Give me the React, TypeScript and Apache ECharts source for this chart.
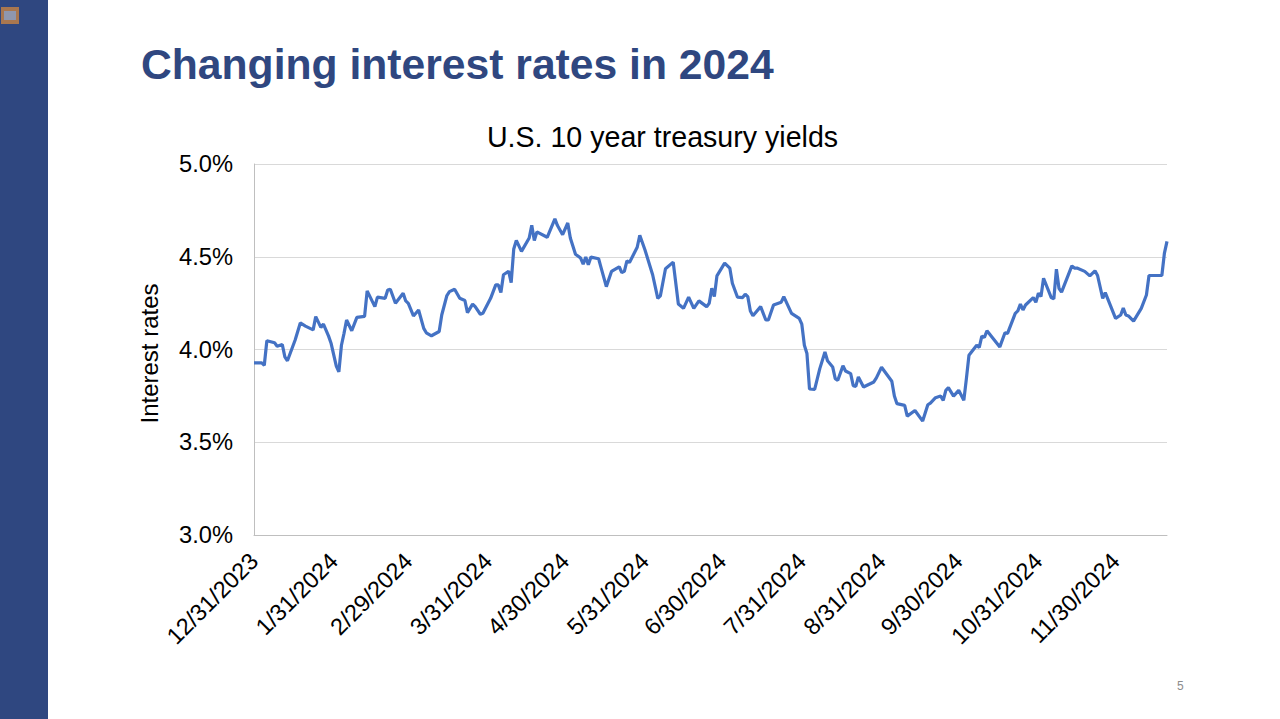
import React, { useEffect, useRef } from "react";
import * as echarts from "echarts";

const FONT = '"Liberation Sans", Arial, sans-serif';
const heading = "Changing interest rates in 2024";
const chartTitle = "U.S. 10 year treasury yields";
const yAxisName = "Interest rates";
const pageNumber = "5";
const startDate = Date.UTC(2023, 11, 31);
const dayCount = 356;
const tickLabels = [
  "12/31/2023", "1/31/2024", "2/29/2024", "3/31/2024", "4/30/2024", "5/31/2024",
  "6/30/2024", "7/31/2024", "8/31/2024", "9/30/2024", "10/31/2024", "11/30/2024",
];
// [days since 12/31/2023, yield in %]
const yieldReadings: [number, number][] = [
  [0,3.928],[3,3.928],[4,3.915],[5,4.047],[8,4.036],[9,4.018],[11,4.027],[12,3.96],[13,3.939],[16,4.051],
  [18,4.143],[20,4.126],[23,4.106],[24,4.177],[26,4.119],[27,4.137],[28,4.105],[29,4.072],[30,4.032],[32,3.91],
  [33,3.879],[34,4.023],[35,4.087],[36,4.159],[38,4.101],[40,4.173],[43,4.179],[44,4.316],[47,4.231],[48,4.282],
  [51,4.276],[52,4.321],[53,4.325],[55,4.249],[58,4.303],[59,4.262],[60,4.249],[62,4.181],[64,4.213],[66,4.114],
  [67,4.09],[69,4.074],[72,4.097],[73,4.186],[75,4.291],[76,4.312],[78,4.325],[80,4.276],[82,4.264],[83,4.199],
  [85,4.245],[86,4.231],[88,4.19],[89,4.195],[92,4.276],[94,4.348],[95,4.348],[96,4.307],[97,4.403],[99,4.422],
  [100,4.361],[101,4.542],[102,4.588],[104,4.529],[107,4.601],[108,4.67],[109,4.588],[110,4.634],[114,4.605],[117,4.704],
  [118,4.668],[120,4.619],[122,4.682],[123,4.601],[125,4.514],[127,4.493],[128,4.46],[129,4.498],[130,4.457],[131,4.498],
  [134,4.489],[135,4.439],[137,4.339],[139,4.421],[142,4.446],[143,4.415],[144,4.421],[145,4.478],[146,4.469],[149,4.551],
  [150,4.616],[152,4.538],[155,4.403],[157,4.276],[158,4.289],[160,4.435],[163,4.471],[165,4.245],[167,4.222],[169,4.282],
  [171,4.222],[173,4.262],[176,4.231],[177,4.249],[178,4.33],[179,4.285],[180,4.397],[183,4.466],[185,4.439],[186,4.357],
  [188,4.282],[190,4.28],[191,4.298],[192,4.285],[193,4.208],[194,4.182],[197,4.231],[199,4.159],[200,4.159],[202,4.24],
  [205,4.255],[206,4.285],[209,4.195],[212,4.168],[213,4.137],[214,4.023],[215,3.978],[216,3.787],[218,3.785],[220,3.897],
  [222,3.987],[223,3.939],[225,3.906],[226,3.843],[227,3.834],[229,3.912],[230,3.884],[232,3.87],[233,3.805],[234,3.801],
  [235,3.852],[237,3.798],[241,3.825],[242,3.847],[244,3.904],[248,3.829],[249,3.749],[250,3.708],[253,3.699],[254,3.641],
  [257,3.671],[260,3.614],[262,3.702],[263,3.711],[265,3.74],[267,3.749],[268,3.726],[269,3.78],[270,3.794],[272,3.749],
  [274,3.78],[276,3.726],[277,3.843],[278,3.969],[281,4.023],[282,4.011],[283,4.072],[284,4.065],[285,4.101],[290,4.014],
  [292,4.09],[293,4.087],[296,4.195],[297,4.208],[298,4.245],[299,4.213],[300,4.24],[303,4.28],[304,4.255],[305,4.303],
  [306,4.285],[307,4.384],[310,4.28],[311,4.273],[312,4.433],[313,4.33],[314,4.309],[318,4.451],[319,4.439],[320,4.439],
  [323,4.421],[325,4.397],[327,4.424],[328,4.399],[330,4.276],[331,4.307],[335,4.168],[337,4.186],[338,4.224],[339,4.186],
  [340,4.181],[342,4.153],[345,4.222],[347,4.294],[348,4.399],[353,4.399],[354,4.52],[355,4.583],
];

const dayLabel = (offset: number) => {
  const d = new Date(startDate + offset * 86400000);
  return `${d.getUTCMonth() + 1}/${d.getUTCDate()}/${d.getUTCFullYear()}`;
};
const categories = Array.from({ length: dayCount }, (_, i) => dayLabel(i));
const seriesData = yieldReadings.map(([day, v]) => [dayLabel(day), v]);

export default function App() {
  const ref = useRef<HTMLDivElement>(null);
  useEffect(() => {
    const chart = echarts.init(ref.current!, undefined, { renderer: "svg" });
    chart.setOption({
      animation: false,
      backgroundColor: "#ffffff",
      title: {
        text: chartTitle,
        left: 657.5,
        top: 117,
        textAlign: "center",
        textStyle: { fontFamily: FONT, fontSize: 28.6, fontWeight: "normal", color: "#000000" },
      },
      grid: { left: 254, top: 164, width: 913, height: 371, containLabel: false },
      xAxis: {
        type: "category",
        data: categories,
        boundaryGap: false,
        axisLine: { show: true, lineStyle: { color: "#BFBFBF", width: 1 } },
        axisTick: { show: false },
        splitLine: { show: false },
        axisLabel: {
          interval: (_: number, value: string) => tickLabels.includes(value),
          rotate: 45,
          margin: 22,
          lineHeight: 34,
          fontFamily: FONT,
          fontSize: 23.5,
          color: "#000000",
        },
      },
      yAxis: {
        type: "value",
        min: 3,
        max: 5,
        interval: 0.5,
        name: yAxisName,
        nameLocation: "middle",
        nameGap: 93,
        nameTextStyle: { fontFamily: FONT, fontSize: 24, color: "#000000", padding: [0, 8, 0, 0] },
        axisLine: { show: true, lineStyle: { color: "#BFBFBF", width: 1 } },
        axisTick: { show: false },
        splitLine: { lineStyle: { color: "#D9D9D9", width: 1 } },
        axisLabel: {
          formatter: (v: number) => v.toFixed(1) + "%",
          margin: 21,
          fontFamily: FONT,
          fontSize: 23.7,
          color: "#000000",
        },
      },
      series: [
        {
          type: "line",
          data: seriesData,
          showSymbol: false,
          smooth: false,
          lineStyle: { color: "#4472C4", width: 3.2 },
          itemStyle: { color: "#4472C4" },
          clip: false,
        },
      ],
      graphic: [
        { type: "rect", shape: { x: 0, y: 0, width: 48, height: 719 }, style: { fill: "#2F4780" } },
        { type: "rect", shape: { x: 1, y: 7, width: 18, height: 17 }, style: { fill: "#A9774F" } },
        { type: "rect", shape: { x: 4, y: 11, width: 12, height: 9 }, style: { fill: "#8F97AE" } },
        {
          type: "text", x: 141, y: 42,
          style: { text: heading, fontFamily: FONT, fontSize: 42.65, fontWeight: "bold", fill: "#2F4780" },
        },
        {
          type: "text", x: 1177, y: 680,
          style: { text: pageNumber, fontFamily: FONT, fontSize: 12, fill: "#8C8C8C" },
        },
      ],
    });
    return () => chart.dispose();
  }, []);
  return <div ref={ref} style={{ position: "fixed", left: 0, top: 0, width: 1280, height: 719 }} />;
}
